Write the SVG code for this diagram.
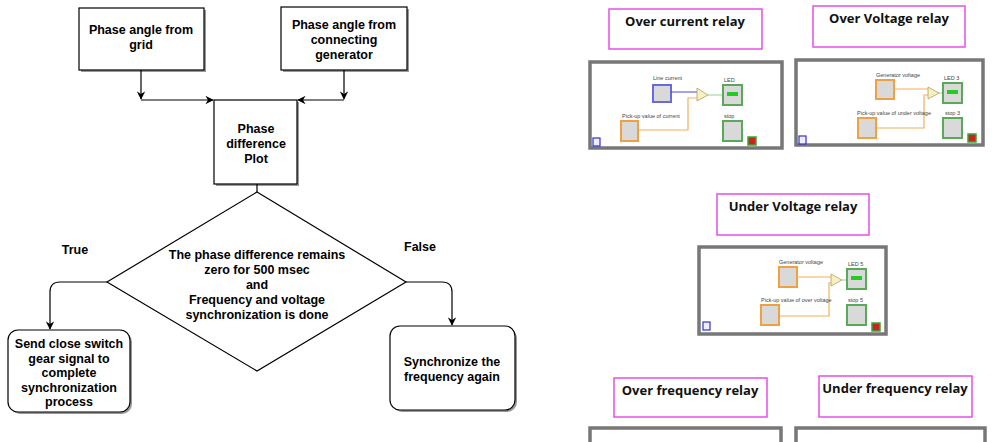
<svg xmlns="http://www.w3.org/2000/svg" width="992" height="442" viewBox="0 0 992 442">
<style>
.bx{fill:#fff;stroke:#000;stroke-width:1.2}
.sh{fill:#999}
.t{font-family:"Liberation Sans",Arial,sans-serif;font-weight:bold;font-size:12.5px;fill:#000;text-anchor:middle}
.ln{fill:none;stroke:#000;stroke-width:1.2}
.tb{fill:#fff;stroke:#e84fe8;stroke-width:1.5}
.tt{font-family:"Open Sans","Liberation Sans",sans-serif;font-weight:bold;font-size:13px;fill:#111;text-anchor:middle}
.pn{fill:#fff;stroke:#777;stroke-width:3.5}
.s{font-family:"Liberation Sans",Arial,sans-serif;font-size:5.5px;fill:#444}
.ico{fill:#d9d9d9;stroke-width:2}
.or{stroke:#f0a040}.bl{stroke:#6a6ae0}.gr{stroke:#5aa85a}
.wo{fill:none;stroke:#f2b060;stroke-width:1.2}
.cmp{fill:#f7f0c0;stroke:#b0a060;stroke-width:0.8}
.led{fill:#2c2}
.btn{fill:#cc2222;stroke:#3a3;stroke-width:1.5}
.ii{fill:#eef;stroke:#33c;stroke-width:1.2}
</style>
<defs>
<marker id="ah" viewBox="0 0 10 10" refX="9" refY="5" markerWidth="7" markerHeight="7" orient="auto"><path d="M0,0L10,5L0,10L3,5z" fill="#000"/></marker>
</defs>
<g id="n1"><rect class="sh" x="81" y="10" width="125" height="62"/><rect class="bx" x="79" y="8" width="125" height="62"/><text class="t" x="141" y="34">Phase angle from</text><text class="t" x="141" y="49">grid</text></g>
<g id="n2"><rect class="sh" x="283" y="9" width="126" height="63"/><rect class="bx" x="281" y="7" width="126" height="63"/><text class="t" x="344" y="29">Phase angle from</text><text class="t" x="344" y="44">connecting</text><text class="t" x="344" y="59">generator</text></g>
<g id="n3"><rect class="sh" x="216" y="102" width="83" height="84"/><rect class="bx" x="214" y="100" width="83" height="84"/><text class="t" x="256" y="133">Phase</text><text class="t" x="256" y="148">difference</text><text class="t" x="256" y="163">Plot</text></g>
<g id="n4"><polygon class="bx" points="257,192 406,282 257,371 107,282"/><text class="t" x="257" y="259">The phase difference remains</text><text class="t" x="257" y="274">zero for 500 msec</text><text class="t" x="257" y="289">and</text><text class="t" x="257" y="304">Frequency and voltage</text><text class="t" x="257" y="319">synchronization is done</text></g>
<g id="n5"><rect class="sh" x="10" y="332" width="122" height="82" rx="10"/><rect class="bx" x="8" y="330" width="122" height="82" rx="10"/><text class="t" x="69" y="348">Send close switch</text><text class="t" x="69" y="362.5">gear signal to</text><text class="t" x="69" y="377">complete</text><text class="t" x="69" y="391.5">synchronization</text><text class="t" x="69" y="406">process</text></g>
<g id="n6"><rect class="sh" x="392" y="328" width="125" height="84" rx="10"/><rect class="bx" x="390" y="326" width="125" height="84" rx="10"/><text class="t" x="452" y="366">Synchronize the</text><text class="t" x="452" y="381">frequency again</text></g>
<g id="labels"><text class="t" x="75" y="254">True</text><text class="t" x="420" y="251">False</text></g>
<g id="connectors">
<path class="ln" d="M141,70V99" marker-end="url(#ah)"/>
<path class="ln" d="M141,100H213" marker-end="url(#ah)"/>
<path class="ln" d="M344,70V99" marker-end="url(#ah)"/>
<path class="ln" d="M344,100H298" marker-end="url(#ah)"/>
<path class="ln" d="M257,184V192"/>
<path class="ln" d="M107,282H60Q50,282 50,292V329" marker-end="url(#ah)"/>
<path class="ln" d="M406,282H442Q452,282 452,292V325" marker-end="url(#ah)"/>
</g>
<g id="r1"><rect class="tb" x="609" y="9" width="153" height="40"/><text class="tt" x="685" y="26">Over current relay</text>
<rect class="pn" x="590" y="62" width="192" height="86"/>
<text class="s" x="653" y="80">Line current</text><rect class="ico bl" x="653" y="85" width="18" height="17"/>
<path d="M671,92H697" stroke="#4444dd" fill="none"/>
<path class="wo" d="M638,130H688V98H697"/>
<polygon class="cmp" points="697,88 708,95 697,101"/>
<path d="M708,95H723" stroke="#9c9" fill="none"/>
<text class="s" x="724" y="82">LED</text><rect class="ico gr" x="723" y="85" width="19" height="20"/><rect class="led" x="727" y="92" width="11" height="4"/>
<text class="s" x="622" y="118">Pick-up value of current</text><rect class="ico or" x="621" y="121" width="17" height="20"/>
<text class="s" x="724" y="118">stop</text><rect class="ico gr" x="723" y="121" width="19" height="20"/>
<rect class="btn" x="748" y="137" width="8" height="8"/><rect class="ii" x="593" y="138" width="7" height="8"/></g>
<g id="r2"><rect class="tb" x="813" y="6" width="152" height="41"/><text class="tt" x="889" y="23">Over Voltage relay</text>
<rect class="pn" x="796" y="60" width="187" height="85"/>
<text class="s" x="876" y="77">Generator voltage</text><rect class="ico or" x="876" y="80" width="18" height="19"/>
<path class="wo" d="M894,89H928"/><path class="wo" d="M876,128H924V95H928"/>
<polygon class="cmp" points="928,87 939,93 928,99"/>
<path d="M939,93H943" stroke="#9c9" fill="none"/>
<text class="s" x="944" y="80">LED 3</text><rect class="ico gr" x="943" y="83" width="19" height="20"/><rect class="led" x="947" y="90" width="11" height="4"/>
<text class="s" x="857" y="115">Pick-up value of under voltage</text><rect class="ico or" x="858" y="118" width="18" height="20"/>
<text class="s" x="945" y="115">stop 3</text><rect class="ico gr" x="943" y="118" width="19" height="20"/>
<rect class="btn" x="968" y="134" width="8" height="8"/><rect class="ii" x="799" y="136" width="7" height="8"/></g>
<g id="r3"><rect class="tb" x="717" y="194" width="152" height="41"/><text class="tt" x="793" y="211">Under Voltage relay</text>
<rect class="pn" x="699" y="247" width="187" height="87"/>
<text class="s" x="779" y="264">Generator voltage</text><rect class="ico or" x="779" y="267" width="18" height="20"/>
<path class="wo" d="M797,277H831"/><path class="wo" d="M779,316H829V283H831"/>
<polygon class="cmp" points="831,274 842,280 831,286"/>
<path d="M842,280H847" stroke="#9c9" fill="none"/>
<text class="s" x="848" y="266">LED 5</text><rect class="ico gr" x="847" y="269" width="19" height="20"/><rect class="led" x="851" y="276" width="11" height="4"/>
<text class="s" x="761" y="302">Pick-up value of over voltage</text><rect class="ico or" x="761" y="305" width="18" height="20"/>
<text class="s" x="848" y="302">stop 5</text><rect class="ico gr" x="847" y="305" width="19" height="20"/>
<rect class="btn" x="872" y="323" width="8" height="8"/><rect class="ii" x="703" y="322" width="7" height="8"/></g>
<g id="r4"><rect class="tb" x="614" y="378" width="153" height="39"/><text class="tt" x="690" y="395">Over frequency relay</text>
<rect class="pn" x="590" y="428" width="191" height="30"/></g>
<g id="r5"><rect class="tb" x="819" y="376" width="153" height="41"/><text class="tt" x="895" y="393">Under frequency relay</text>
<rect class="pn" x="796" y="428" width="189" height="30"/></g>
</svg>
